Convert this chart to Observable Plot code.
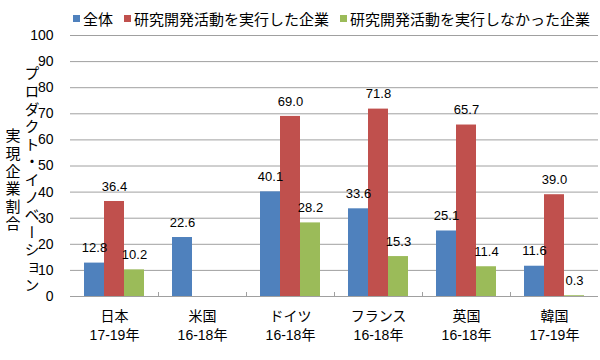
<!DOCTYPE html>
<html>
<head>
<meta charset="utf-8">
<script src="https://cdn.jsdelivr.net/npm/d3@7"></script>
<script src="https://cdn.jsdelivr.net/npm/@observablehq/plot@0.6"></script>
<style>
  html, body { margin: 0; padding: 0; background: #fff; }
  #wrap { position: relative; width: 600px; height: 360px; font-family: "Liberation Sans", "Noto Sans CJK JP", sans-serif; }
  #legend { position: absolute; left: 73px; top: 8px; display: flex; align-items: center; font-size: 15px; color: #000; white-space: nowrap; }
  #legend .item { display: flex; align-items: center; margin-right: 11px; }
  #legend .sw { width: 7px; height: 7px; margin-right: 3px; }
</style>
</head>
<body>
<div id="wrap"><div id="legend"></div></div>
<script>
// ---- data ----
const countries = ["日本", "米国", "ドイツ", "フランス", "英国", "韓国"];
const periods = ["17-19年", "16-18年", "16-18年", "16-18年", "16-18年", "17-19年"];
const seriesNames = ["全体", "研究開発活動を実行した企業", "研究開発活動を実行しなかった企業"];
const allFirms = [12.8, 22.6, 40.1, 33.6, 25.1, 11.6];
const rdFirms = [36.4, null, 69.0, 71.8, 65.7, 39.0];
const nonRdFirms = [10.2, null, 28.2, 15.3, 11.4, 0.3];
const seriesColors = ["#4F81BD", "#C0504D", "#9BBB59"];
const yTicks = [0, 10, 20, 30, 40, 50, 60, 70, 80, 90, 100];
const yTitle1 = "実現企業割合";
const yTitle2 = "プロダクト・イノベーション";

const seriesValues = [allFirms, rdFirms, nonRdFirms];
const rows = [];
countries.forEach((c, i) => {
  seriesValues.forEach((arr, j) => {
    if (arr[i] != null) rows.push({country: c, series: seriesNames[j], value: arr[i]});
  });
});

const gridColor = "#a0a0a0";

const chart = Plot.plot({
  width: 600,
  height: 360,
  marginLeft: 70,
  marginRight: 2,
  marginTop: 35,
  marginBottom: 64,
  style: {fontFamily: '"Liberation Sans", "Noto Sans CJK JP", sans-serif', fontSize: "13px", color: "black", background: "transparent"},
  fx: {domain: countries, padding: 0, label: null},
  x: {domain: seriesNames, paddingInner: 0, paddingOuter: 0.6, axis: null},
  y: {domain: [0, 100], label: null},
  color: {domain: seriesNames, range: seriesColors},
  marks: [
    Plot.gridY(yTicks, {stroke: gridColor, strokeOpacity: 1}),
    Plot.barY(rows, {fx: "country", x: "series", y: "value", fill: "series"}),
    Plot.text(rows, {fx: "country", x: "series", y: "value", text: d => d.value.toFixed(1), dy: -15, lineAnchor: "middle", fontSize: 13, fill: "black"}),
    Plot.ruleY([0], {stroke: gridColor}),
    Plot.axisY(yTicks, {tickSize: 0, tickPadding: 17, fontSize: 14, line: true, stroke: gridColor, fill: "black", label: null}),
    Plot.axisFx({anchor: "bottom", tickSize: 0, tickPadding: 11, fontSize: 14, lineHeight: 1.35, label: null,
      tickFormat: d => d + "\n" + periods[countries.indexOf(d)]})
  ]
});

document.getElementById("wrap").appendChild(chart);

// boundary ticks on the category axis
const fxs = chart.scale("fx");
const ys = chart.scale("y");
const y0 = ys.apply(0);
const svg = d3.select(chart);
countries.slice(1).forEach(c => {
  const x = Math.round(fxs.apply(c)) + 0.5;
  svg.append("line").attr("x1", x).attr("x2", x).attr("y1", y0 - 4).attr("y2", y0).attr("stroke", gridColor);
});

// vertical y-axis titles, one glyph per cell
const vt = (txt, x, yStart, step) => {
  const g = svg.append("g")
    .attr("fill", "black")
    .attr("text-anchor", "middle")
    .style("font-family", '"Noto Sans CJK JP", sans-serif')
    .style("font-size", "15px");
  Array.from(txt).forEach((ch, i) => {
    g.append("text")
      .attr("x", x)
      .attr("y", yStart + step * i + step / 2)
      .attr("dominant-baseline", "central")
      .style("writing-mode", "vertical-rl")
      .text(ch);
  });
};
vt(yTitle1, 13, 127, 17.6);
vt(yTitle2, 32, 65, 17.6);

// legend
const legend = d3.select("#legend");
seriesNames.forEach((s, i) => {
  const it = legend.append("div").attr("class", "item");
  it.append("div").attr("class", "sw").style("background", seriesColors[i]);
  it.append("span").text(s);
});
</script>
</body>
</html>
